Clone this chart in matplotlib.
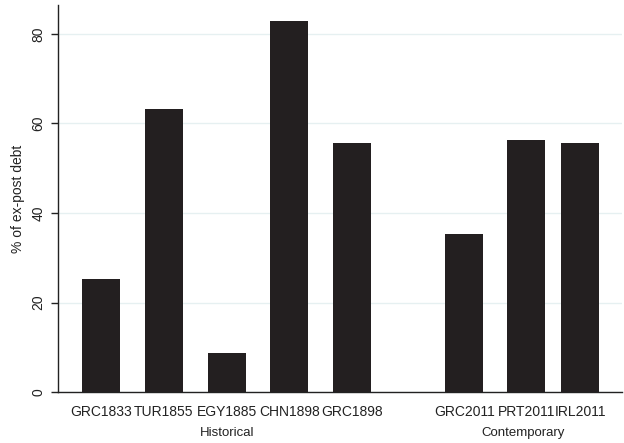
import numpy as np
import matplotlib
matplotlib.use("Agg")
import matplotlib.pyplot as plt

plt.rcParams['font.family'] = ['Liberation Sans', 'DejaVu Sans']

labels = ['GRC1833', 'TUR1855', 'EGY1885', 'CHN1898', 'GRC1898',
          'GRC2011', 'PRT2011', 'IRL2011']
values = [25.3, 63.2, 8.7, 82.9, 55.7, 35.2, 56.4, 55.6]
groups = ['Historical', 'Contemporary']
positions = [0, 1, 2, 3, 4, 5.79, 6.78, 7.64]

fig = plt.figure(figsize=(6.24, 4.43), dpi=100)
ax = fig.add_axes([0.093, 0.115, 0.904, 0.874])

ax.bar(positions, values, width=0.61, color='#231f20', zorder=3)

ax.set_xlim(-0.69, 8.31)
ax.set_ylim(0, 86.5)
ax.set_yticks([0, 20, 40, 60, 80])
ax.set_yticklabels(['0', '20', '40', '60', '80'], rotation=90, va='center')
ax.yaxis.grid(True, color='#e6f0f1', linewidth=1, zorder=0)
ax.set_ylabel('% of ex-post debt', fontsize=10, color='#222222', labelpad=5)

ax.set_xticks(positions)
ax.set_xticklabels(labels, fontsize=10)
ax.tick_params(axis='x', length=0, pad=9, colors='#222222')
ax.tick_params(axis='y', length=5, width=1, labelsize=10, colors='#222222', pad=4)

for side in ['top', 'right']:
    ax.spines[side].set_visible(False)
for side in ['left', 'bottom']:
    ax.spines[side].set_color('#222222')
    ax.spines[side].set_linewidth(1)

# group labels under each block of bars
ax.text(np.mean(positions[:5]), -0.107, groups[0], transform=ax.get_xaxis_transform(),
        ha='center', va='center', fontsize=9.5, color='#222222')
ax.text(np.mean(positions[5:]), -0.107, groups[1], transform=ax.get_xaxis_transform(),
        ha='center', va='center', fontsize=9.5, color='#222222')

fig.savefig('out.png', dpi=100)
